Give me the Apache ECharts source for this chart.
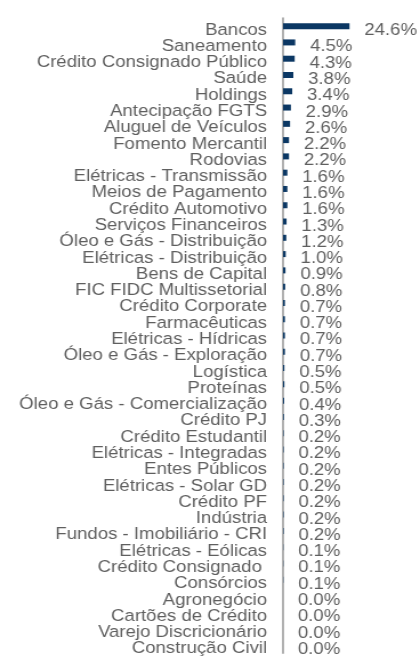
<!DOCTYPE html>
<html>
<head>
<meta charset="utf-8">
<script src="https://cdn.jsdelivr.net/npm/echarts@6/dist/echarts.min.js"></script>
<style>
  html, body { margin: 0; padding: 0; background: #fff; overflow: hidden; }
  /* the reference picture is a bit wider than tall, so stretch horizontally */
  #chart { width: 368px; height: 657px; transform: scaleX(1.1413); transform-origin: left top; }
</style>
</head>
<body>
<div id="chart"></div>
<script>
const sectors = [
  'Bancos', 'Saneamento', 'Crédito Consignado Público', 'Saúde', 'Holdings',
  'Antecipação FGTS', 'Aluguel de Veículos', 'Fomento Mercantil', 'Rodovias',
  'Elétricas - Transmissão', 'Meios de Pagamento', 'Crédito Automotivo',
  'Serviços Financeiros', 'Óleo e Gás - Distribuição', 'Elétricas - Distribuição',
  'Bens de Capital', 'FIC FIDC Multissetorial', 'Crédito Corporate', 'Farmacêuticas',
  'Elétricas - Hídricas', 'Óleo e Gás - Exploração', 'Logística', 'Proteínas',
  'Óleo e Gás - Comercialização', 'Crédito PJ', 'Crédito Estudantil',
  'Elétricas - Integradas', 'Entes Públicos', 'Elétricas - Solar GD', 'Crédito PF',
  'Indústria', 'Fundos - Imobiliário - CRI', 'Elétricas - Eólicas', 'Crédito Consignado ',
  'Consórcios', 'Agronegócio', 'Cartões de Crédito', 'Varejo Discricionário', 'Construção Civil'
]
const shares = [
  24.6, 4.5, 4.3, 3.8, 3.4,
  2.9, 2.6, 2.2, 2.2,
  1.6, 1.6, 1.6,
  1.3, 1.2, 1.0,
  0.9, 0.8, 0.7, 0.7,
  0.7, 0.7, 0.5, 0.5,
  0.4, 0.3, 0.2,
  0.2, 0.2, 0.2, 0.2,
  0.2, 0.2, 0.1, 0.1,
  0.1, 0.0, 0.0, 0.0, 0.0
]

const chart = echarts.init(document.getElementById('chart'))
chart.setOption({
  animation: false,
  grid: { left: 248, right: 49, top: 18, height: 635 },
  xAxis: {
    type: 'value',
    min: 0,
    max: 30,
    show: false
  },
  yAxis: {
    type: 'category',
    inverse: true,
    data: sectors,
    axisTick: { show: false },
    axisLine: { lineStyle: { color: '#a6a6a6', width: 1.75 } },
    axisLabel: {
      margin: 14,
      color: '#5f5f5f',
      fontFamily: 'Liberation Sans, Arial, sans-serif',
      fontSize: 16.3,
      // text sits a little below the bar centre in the original
      verticalAlign: 'top',
      lineHeight: 8,
      interval: 0
    }
  },
  series: [
    {
      type: 'bar',
      data: shares,
      barWidth: 6,
      itemStyle: { color: '#0b3763' },
      label: {
        show: true,
        position: 'right',
        distance: 13,
        offset: [0, 4.5],
        color: '#5f5f5f',
        fontFamily: 'Liberation Sans, Arial, sans-serif',
        fontSize: 16.3,
        formatter: p => p.value.toFixed(1) + '%'
      }
    }
  ]
})
</script>
</body>
</html>
